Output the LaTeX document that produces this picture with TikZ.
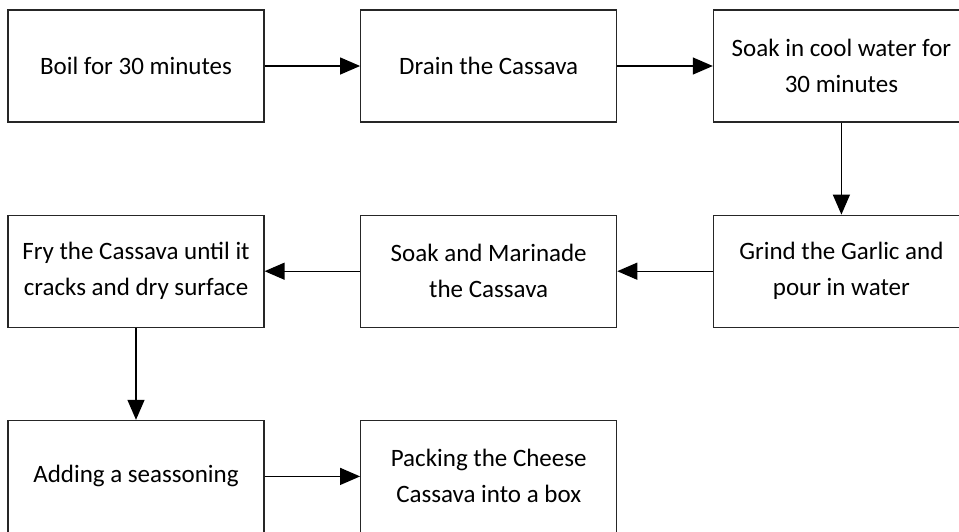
\documentclass[tikz,border=0pt]{standalone}
\usepackage{fontspec}
\setmainfont{Carlito}
\usepackage{tikz}
\usetikzlibrary{arrows.meta,positioning}
\begin{document}
\begin{tikzpicture}[
    n/.style={draw=black!85,line width=1.2pt,minimum width=256pt,minimum height=112pt,align=center,inner sep=0pt,font=\fontsize{25}{36}\selectfont},
    a/.style={-{Triangle[length=20pt,width=17pt]},line width=1.3pt,draw=black}]
    \useasboundingbox (0,0) rectangle (959pt,-531pt);
    \clip (0,0) rectangle (959pt,-531pt);
    \node[n] (a) at (136pt,-66pt) {Boil for 30 minutes};
    \node[n,right=95.5pt of a] (b) {Drain the Cassava};
    \node[n,right=95.5pt of b] (c) {Soak in cool water for\\30 minutes};
    \node[n,below=92pt of c] (d) {Grind the Garlic and\\pour in water};
    \node[n,left=95.5pt of d] (e) {Soak and Marinade\\the Cassava};
    \node[n,left=95.5pt of e] (f) {Fry the Cassava until it\\cracks and dry surface};
    \node[n,below=92pt of f] (g) {Adding a seassoning};
    \node[n,right=95.5pt of g] (h) {Packing the Cheese\\Cassava into a box};
    \draw[a] (a)--(b); \draw[a] (b)--(c); \draw[a] (c)--(d); \draw[a] (d)--(e);
    \draw[a] (e)--(f); \draw[a] (f)--(g); \draw[a] (g)--(h);
  \end{tikzpicture}
\end{document}
